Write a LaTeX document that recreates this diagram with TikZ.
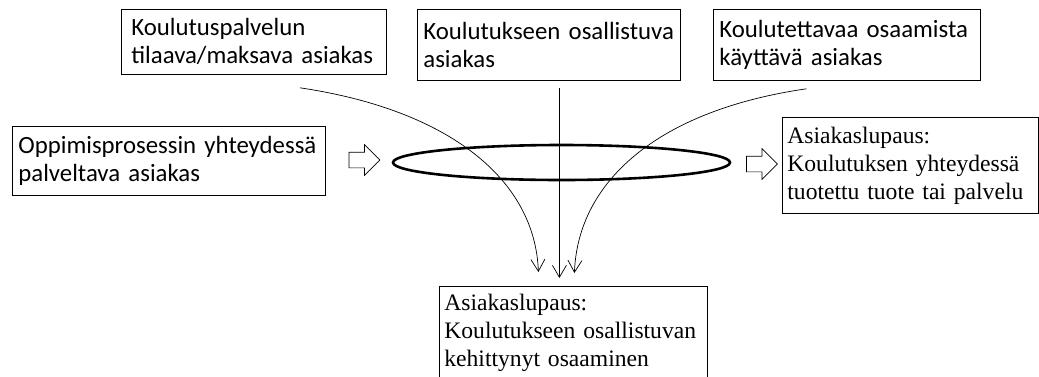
\documentclass[tikz,border=0pt]{standalone}
\usepackage{fontspec}
\setmainfont{Liberation Serif}
\newfontfamily\calibri{Carlito}
\usetikzlibrary{shapes.geometric, shapes.arrows, arrows.meta, positioning}
\hyphenpenalty=10000
\tikzstyle{sansbox} = [rectangle, draw=black, line width=0.8pt, anchor=north west, align=left, inner xsep=6pt, inner ysep=0pt, font=\calibri\fontsize{24.8}{28}\selectfont]
\tikzstyle{serifbox} = [rectangle, draw=black, line width=0.8pt, anchor=north west, align=left, inner xsep=5pt, inner ysep=0pt, font=\fontsize{23.6}{28}\selectfont]
\tikzstyle{flow} = [line width=0.7pt, -{Straight Barb[length=12pt,width=14pt]}]
\tikzstyle{hollow} = [single arrow, draw=black, line width=0.7pt, minimum height=31pt, single arrow head extend=7.5pt, inner xsep=0pt, inner ysep=7.5pt, outer sep=0pt]

\begin{document}
\begin{tikzpicture}[x=1pt, y=-1pt]
  \useasboundingbox (0,0) rectangle (1039,376);

  % Asiakkaat ylhäällä
  \node[sansbox, inner xsep=10pt, text width=245pt, minimum height=65pt] (tilaaja) at (121,9) {Koulutuspalvelun\\tilaava/maksava~asiakas};
  \node[sansbox, text width=251pt, minimum height=71pt] (osallistuja) at (417,9) {Koulutukseen~osallistuva\\asiakas};
  \node[sansbox, text width=255pt, minimum height=71pt] (kayttaja) at (713,9) {Koulutettavaa~osaamista\\käyttävä~asiakas};

  % Vasen ja oikea
  \node[sansbox, text width=301pt, minimum height=69pt] (oppija) at (12,126) {Oppimisprosessin~yhteydessä\\palveltava~asiakas};
  \node[serifbox, text width=246pt, minimum height=96pt] (tuote) at (782,117) {Asiakaslupaus:\\Koulutuksen~yhteydessä\\tuotettu~tuote~tai~palvelu};

  % Alhaalla
  \node[serifbox, text width=258pt, minimum height=92pt] (osaaminen) at (439,286) {Asiakaslupaus:\\Koulutukseen~osallistuvan\\kehittynyt~osaaminen};

  % Rengas ja nuolet
  \node[hollow] (nuoliv) at (360.5,160) {};
  \node[hollow] (nuolio) at (758,164) {};

  % Kaaret alas
  \draw[flow] ([xshift=46pt, yshift=-13pt]tilaaja.south) .. controls (450,110) and (535,180) .. ([xshift=-35pt, yshift=14pt]osaaminen.north);
  \draw[flow] ([xshift=10.5pt, yshift=-7pt]osallistuja.south) -- ([xshift=-14pt, yshift=8pt]osaaminen.north);
  \draw[flow] ([xshift=-40.5pt, yshift=-8pt]kayttaja.south) .. controls (660,110) and (578,180) .. ([xshift=1pt, yshift=13pt]osaaminen.north);

  \node[ellipse, draw=black, line width=2.6pt, minimum width=337pt, minimum height=35pt] (rengas) at (561.5,162.5) {};
\end{tikzpicture}
\end{document}
